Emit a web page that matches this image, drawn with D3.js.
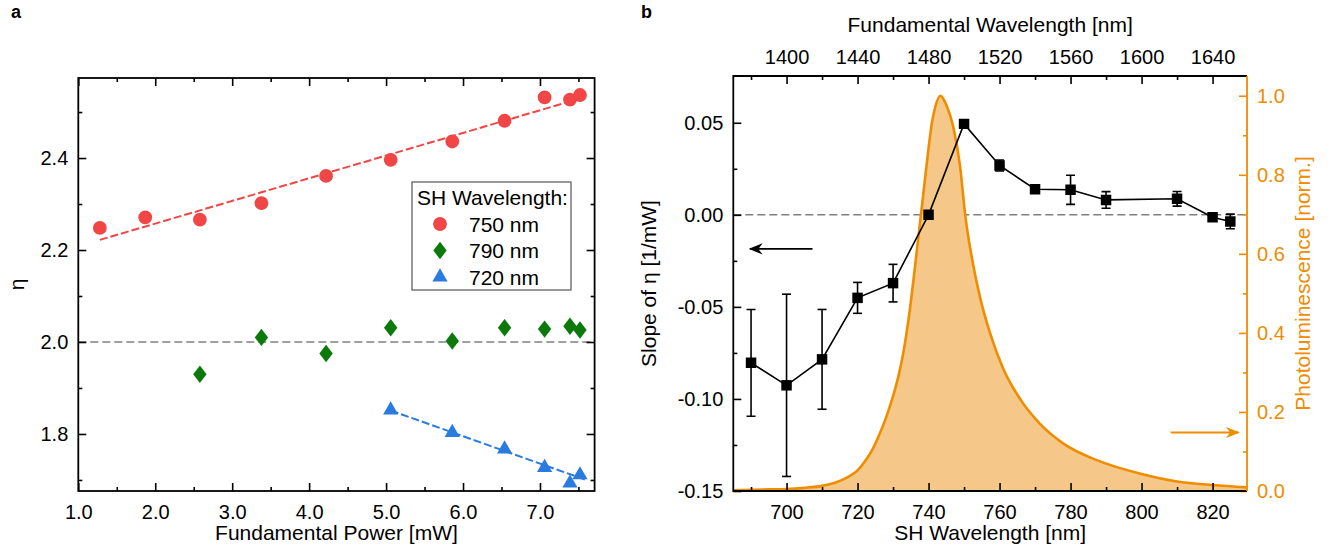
<!DOCTYPE html>
<html>
<head>
<meta charset="utf-8">
<script src="https://cdn.jsdelivr.net/npm/d3@7"></script>
<style>
body { margin: 0; background: #fff; }
svg text { font-family: "Liberation Sans", Arial, sans-serif; }
</style>
</head>
<body>
<svg id="chart" width="1341" height="556"></svg>
<script>
// ---- panel a : eta vs fundamental power
const powerRed = [1.28, 1.87, 2.58, 3.38, 4.22, 5.06, 5.86, 6.54, 7.06, 7.39, 7.52];
const etaRed = [2.248, 2.271, 2.266, 2.302, 2.361, 2.396, 2.436, 2.481, 2.532, 2.527, 2.537];
const powerGreen = [2.58, 3.38, 4.22, 5.06, 5.86, 6.54, 7.06, 7.39, 7.52];
const etaGreen = [1.930, 2.010, 1.975, 2.031, 2.002, 2.031, 2.028, 2.034, 2.026];
const powerBlue = [5.06, 5.86, 6.54, 7.06, 7.39, 7.52];
const etaBlue = [1.852, 1.803, 1.767, 1.727, 1.693, 1.711];
const fitRedP = [1.28, 7.51], fitRedEta = [2.222, 2.529];
const fitBlueP = [5.06, 7.6], fitBlueEta = [1.851, 1.700];
const legendLabels = ["750 nm", "790 nm", "720 nm"];

// ---- panel b : slope of eta vs SH wavelength, PL spectrum
const shWl = [690, 700, 710, 720, 730, 740, 750, 760, 770, 780, 790, 810, 820, 825];
const slope = [-0.0804, -0.0926, -0.0785, -0.0451, -0.0371, 0.0, 0.0494, 0.0268, 0.0139, 0.0136, 0.0081, 0.0087, -0.0013, -0.0036];
const slopeErr = [0.029, 0.0495, 0.0271, 0.0084, 0.0102, 0.002, 0.001, 0.003, 0.001, 0.0079, 0.0045, 0.004, 0.002, 0.004];
const plWl = [685, 690, 695, 700, 705, 710, 714, 717, 720, 722, 724, 726, 728, 730, 731.5, 733, 734.3, 735.7, 737.1, 738.5, 739.9, 741, 742, 743.3, 744.3, 745.1, 747, 748.9, 750.3, 752.2, 754.5, 757.3, 761, 766, 771.4, 778, 787.4, 800, 810, 820, 830];
const plInt = [0.002, 0.003, 0.004, 0.005, 0.008, 0.013, 0.022, 0.034, 0.052, 0.074, 0.102, 0.14, 0.185, 0.24, 0.29, 0.355, 0.43, 0.53, 0.64, 0.75, 0.86, 0.935, 0.975, 1.0, 0.99, 0.975, 0.92, 0.82, 0.70, 0.59, 0.49, 0.40, 0.31, 0.23, 0.17, 0.12, 0.078, 0.043, 0.024, 0.015, 0.009];

const orange = "#ef8c00", orangeFill = "#f5c88a";
const red = "#f04646", green = "#0b7a0b", blue = "#2a7be0";

const svg = d3.select("#chart");

// generic inward ticks helper
function ticks(g, axisFn, scale, major, minor, fmt, pad, color) {
    const ax = g.append("g");
    ax.call(axisFn(scale).tickValues(major).tickSizeInner(-8).tickSizeOuter(0)
        .tickPadding(pad).tickFormat(fmt));
    ax.append("g").call(axisFn(scale).tickValues(minor).tickSizeInner(-4).tickSizeOuter(0).tickFormat(""));
    ax.selectAll(".domain").remove();
    ax.selectAll("line").attr("stroke", color).attr("stroke-width", 1.6);
    ax.selectAll("text").attr("fill", color).style("font-size", "20px")
        .style("font-family", '"Liberation Sans", Arial, sans-serif');
    return ax;
}

// ================= panel a =================
const xA = d3.scaleLinear([1, 7.71], [78.3, 594.6]);
const yA = d3.scaleLinear([1.676, 2.574], [491, 78]);

const a = svg.append("g");
const f1 = d => d.toFixed(1);

// reference line eta = 2
a.append("line")
    .attr("x1", xA(1)).attr("x2", xA(7.71)).attr("y1", yA(2)).attr("y2", yA(2))
    .attr("stroke", "#808080").attr("stroke-width", 1.6).attr("stroke-dasharray", "8,4");

const lineA = d3.line().x(d => xA(d[0])).y(d => yA(d[1]));
a.append("path").datum(d3.zip(fitRedP, fitRedEta)).attr("d", lineA)
    .attr("fill", "none").attr("stroke", red).attr("stroke-width", 2).attr("stroke-dasharray", "8,3");
a.append("path").datum(d3.zip(fitBlueP, fitBlueEta)).attr("d", lineA)
    .attr("fill", "none").attr("stroke", blue).attr("stroke-width", 2).attr("stroke-dasharray", "8,3");

const circle = d3.symbol().type(d3.symbolCircle).size(150);
const diamond = d3.symbol().type(d3.symbolDiamond).size(88);
const triangle = d3.symbol().type(d3.symbolTriangle).size(100);
const diamondScale = "scale(1.33,1)";

a.selectAll(".red").data(d3.zip(powerRed, etaRed)).enter().append("path")
    .attr("d", circle).attr("fill", red)
    .attr("transform", d => `translate(${xA(d[0])},${yA(d[1])})`);
a.selectAll(".green").data(d3.zip(powerGreen, etaGreen)).enter().append("path")
    .attr("d", diamond).attr("fill", green)
    .attr("transform", d => `translate(${xA(d[0])},${yA(d[1])}) ${diamondScale}`);
a.selectAll(".blue").data(d3.zip(powerBlue, etaBlue)).enter().append("path")
    .attr("d", triangle).attr("fill", blue)
    .attr("transform", d => `translate(${xA(d[0])},${yA(d[1])})`);

// axes a
const aMajX = [1, 2, 3, 4, 5, 6, 7], aMinX = [1.5, 2.5, 3.5, 4.5, 5.5, 6.5, 7.5];
const aMajY = [1.8, 2.0, 2.2, 2.4], aMinY = [1.7, 1.9, 2.1, 2.3, 2.5];
ticks(a, d3.axisBottom, xA, aMajX, aMinX, f1, 14, "#000").attr("transform", `translate(0,${yA.range()[0]})`);
ticks(a, d3.axisTop, xA, aMajX, aMinX, "", 0, "#000").attr("transform", `translate(0,${yA.range()[1]})`);
ticks(a, d3.axisLeft, yA, aMajY, aMinY, f1, 10, "#000").attr("transform", `translate(${xA.range()[0]},0)`);
ticks(a, d3.axisRight, yA, aMajY, aMinY, "", 0, "#000").attr("transform", `translate(${xA.range()[1]},0)`);
a.append("rect")
    .attr("x", xA.range()[0]).attr("y", yA.range()[1])
    .attr("width", xA.range()[1] - xA.range()[0]).attr("height", yA.range()[0] - yA.range()[1])
    .attr("fill", "none").attr("stroke", "#000").attr("stroke-width", 1.8);

a.append("text").attr("x", (xA.range()[0] + xA.range()[1]) / 2).attr("y", 540)
    .attr("text-anchor", "middle").style("font-size", "21px").text("Fundamental Power [mW]");
a.append("text").attr("transform", `translate(24,${(yA.range()[0] + yA.range()[1]) / 2}) rotate(-90)`)
    .attr("text-anchor", "middle").style("font-size", "21px").text("η");
a.append("text").attr("x", 11).attr("y", 18).style("font-size", "18px").style("font-weight", "bold").text("a");

// legend
const leg = a.append("g");
leg.append("rect").attr("x", 412).attr("y", 182).attr("width", 159).attr("height", 108)
    .attr("fill", "#fff").attr("stroke", "#555").attr("stroke-width", 1.2);
leg.append("text").attr("x", 417).attr("y", 205).style("font-size", "21px").text("SH Wavelength:");
const legSyms = [[circle, red, ""], [diamond, green, diamondScale], [triangle, blue, ""]];
legendLabels.forEach((lab, i) => {
    const cy = 224 + i * 26.5;
    leg.append("path").attr("d", legSyms[i][0]).attr("fill", legSyms[i][1])
        .attr("transform", `translate(440,${cy}) ${legSyms[i][2]}`);
    leg.append("text").attr("x", 469).attr("y", cy + 7.5).style("font-size", "21px").text(lab);
});

// ================= panel b =================
const xB = d3.scaleLinear([685, 829.7], [733.3, 1247]);
const xTop = d3.scaleLinear([1370, 1659.4], [733.3, 1247]);
const yB = d3.scaleLinear([-0.15, 0.0754], [491, 76]);
const yR = d3.scaleLinear([0, 1.05], [491, 76]);

const b = svg.append("g");
b.append("clipPath").attr("id", "clipB").append("rect")
    .attr("x", xB.range()[0]).attr("y", yB.range()[1])
    .attr("width", xB.range()[1] - xB.range()[0]).attr("height", yB.range()[0] - yB.range()[1]);
const plot = b.append("g").attr("clip-path", "url(#clipB)");

plot.append("line")
    .attr("x1", xB.range()[0]).attr("x2", xB.range()[1]).attr("y1", yB(0)).attr("y2", yB(0))
    .attr("stroke", "#808080").attr("stroke-width", 1.6).attr("stroke-dasharray", "8,4");

const pl = d3.zip(plWl, plInt);
plot.append("path").datum(pl)
    .attr("d", d3.area().x(d => xB(d[0])).y0(yR(0)).y1(d => yR(d[1])).curve(d3.curveMonotoneX))
    .attr("fill", orangeFill);
plot.append("path").datum(pl)
    .attr("d", d3.line().x(d => xB(d[0])).y(d => yR(d[1])).curve(d3.curveMonotoneX))
    .attr("fill", "none").attr("stroke", orange).attr("stroke-width", 2.6);

const pts = shWl.map((w, i) => ({w, s: slope[i], e: slopeErr[i]}));
plot.append("path").datum(pts)
    .attr("d", d3.line().x(d => xB(d.w)).y(d => yB(d.s)))
    .attr("fill", "none").attr("stroke", "#000").attr("stroke-width", 1.6);

const eb = plot.selectAll(".err").data(pts).enter().append("g");
eb.append("line").attr("x1", d => xB(d.w)).attr("x2", d => xB(d.w))
    .attr("y1", d => yB(d.s - d.e)).attr("y2", d => yB(d.s + d.e))
    .attr("stroke", "#000").attr("stroke-width", 1.6);
[-1, 1].forEach(sg => {
    eb.append("line").attr("x1", d => xB(d.w) - 4.5).attr("x2", d => xB(d.w) + 4.5)
        .attr("y1", d => yB(d.s + sg * d.e)).attr("y2", d => yB(d.s + sg * d.e))
        .attr("stroke", "#000").attr("stroke-width", 1.6);
});
plot.selectAll(".sq").data(pts).enter().append("path")
    .attr("d", d3.symbol().type(d3.symbolSquare).size(110)).attr("fill", "#000")
    .attr("transform", d => `translate(${xB(d.w)},${yB(d.s)})`);

// arrows
const defs = svg.append("defs");
[["arrBlack", "#000"], ["arrOrange", orange]].forEach(([id, c]) => {
    defs.append("marker").attr("id", id).attr("viewBox", "0 0 10 10")
        .attr("refX", 9).attr("refY", 5).attr("markerWidth", 14).attr("markerHeight", 14)
        .attr("markerUnits", "userSpaceOnUse").attr("orient", "auto")
        .append("path").attr("d", "M0,1 L10,5 L0,9 L3,5 Z").attr("fill", c);
});
b.append("line").attr("x1", xB(707.3)).attr("x2", xB(689.7)).attr("y1", yB(-0.0185)).attr("y2", yB(-0.0185))
    .attr("stroke", "#000").attr("stroke-width", 1.8).attr("marker-end", "url(#arrBlack)");
b.append("line").attr("x1", xB(808.2)).attr("x2", xB(827.3)).attr("y1", yR(0.148)).attr("y2", yR(0.148))
    .attr("stroke", orange).attr("stroke-width", 1.8).attr("marker-end", "url(#arrOrange)");

// axes b
const f2 = d => d.toFixed(2);
const bMajX = [700, 720, 740, 760, 780, 800, 820], bMinX = [690, 710, 730, 750, 770, 790, 810];
const bMajT = [1400, 1440, 1480, 1520, 1560, 1600, 1640], bMinT = [1380, 1420, 1460, 1500, 1540, 1580, 1620];
const bMajY = [-0.15, -0.10, -0.05, 0, 0.05], bMinY = [-0.125, -0.075, -0.025, 0.025];
const bMajR = [0, 0.2, 0.4, 0.6, 0.8, 1.0], bMinR = [0.1, 0.3, 0.5, 0.7, 0.9];
ticks(b, d3.axisBottom, xB, bMajX, bMinX, d => d, 14, "#000").attr("transform", `translate(0,${yB.range()[0]})`);
ticks(b, d3.axisTop, xTop, bMajT, bMinT, d => d, 12, "#000").attr("transform", `translate(0,${yB.range()[1]})`);
ticks(b, d3.axisLeft, yB, bMajY, bMinY, f2, 10, "#000").attr("transform", `translate(${xB.range()[0]},0)`);
ticks(b, d3.axisRight, yR, bMajR, bMinR, f1, 10, orange).attr("transform", `translate(${xB.range()[1]},0)`);

const [bl, br] = xB.range(), [bb, bt] = yB.range();
b.append("path").attr("d", `M${br},${bt} L${bl},${bt} L${bl},${bb} L${br},${bb}`)
    .attr("fill", "none").attr("stroke", "#000").attr("stroke-width", 1.8);
b.append("line").attr("x1", br).attr("x2", br).attr("y1", bt).attr("y2", bb)
    .attr("stroke", orange).attr("stroke-width", 1.8);

b.append("text").attr("x", (bl + br) / 2).attr("y", 540).attr("text-anchor", "middle")
    .style("font-size", "21px").text("SH Wavelength [nm]");
b.append("text").attr("x", (bl + br) / 2).attr("y", 32).attr("text-anchor", "middle")
    .style("font-size", "21px").text("Fundamental Wavelength [nm]");
b.append("text").attr("transform", `translate(656,${(bb + bt) / 2}) rotate(-90)`).attr("text-anchor", "middle")
    .style("font-size", "21px").text("Slope of η [1/mW]");
b.append("text").attr("transform", `translate(1310,${(bb + bt) / 2}) rotate(-90)`).attr("text-anchor", "middle")
    .attr("fill", orange).style("font-size", "21px").text("Photoluminescence [norm.]");
b.append("text").attr("x", 641).attr("y", 18).style("font-size", "18px").style("font-weight", "bold").text("b");
</script>
</body>
</html>
